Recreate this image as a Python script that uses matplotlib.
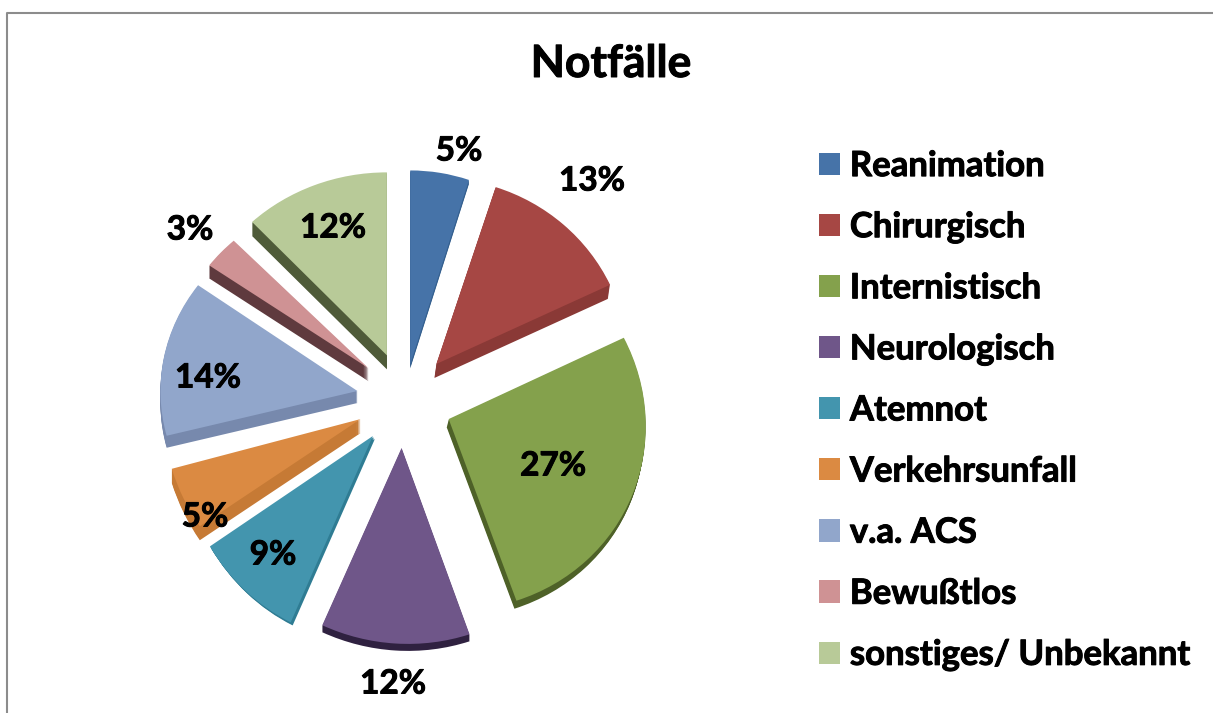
import matplotlib
matplotlib.use("Agg")
import matplotlib.pyplot as plt
import matplotlib.patheffects as pe
import numpy as np
from matplotlib.patches import Wedge
from matplotlib.transforms import Affine2D

plt.rcParams["font.family"] = ["Lato", "DejaVu Sans"]
plt.rcParams["font.weight"] = "bold"

categories = ["Reanimation", "Chirurgisch", "Internistisch", "Neurologisch", "Atemnot",
              "Verkehrsunfall", "v.a. ACS", "Bewußtlos", "sonstiges/ Unbekannt"]
values = [5, 13, 27, 12, 9, 5, 14, 3, 12]
colors = ["#4673A8", "#A64744", "#84A14C", "#6F5689", "#4395AE",
          "#DB8A42", "#91A6CB", "#CF9294", "#B8CA98"]
side_colors = ["#35608F", "#8A3936", "#4E6128", "#2F2140", "#2F7C93",
               "#C67A35", "#7789AD", "#5F3A3E", "#4F5B39"]

# pixel geometry, the axes span the whole image (y up)
H = 713
R = 190
explode = [36, 48, 48, 48, 48, 48, 48, 48, 48]
# perspective per slice: rx, ry, skew
radii = [(190, 194, 0), (192, 186, 0), (197, 191, -0.038), (200, 196, -0.033), (193, 206, 0),
         (198, 200, -0.06), (197, 180, 0), (197, 175, 0), (197, 183, 0)]
side_shift = [(0, 4), (-2, 14), (-2, 8), (0, 7), (2, 3), (0, 14), (0, 12), (0, 13), (0, 14)]
label_pos = [(459, 151), (592, 181), (553, 466), (393, 684), (273, 555),
             (205, 517), (208, 378), (190, 230), (333, 228)]

fig = plt.figure(figsize=(12.13, 7.13), dpi=100)
ax = fig.add_axes([0, 0, 1, 1])

wedges, _ = ax.pie(values, explode=explode, colors=colors, startangle=90, counterclock=False,
                   center=(404.6, H - 400), radius=R, wedgeprops={"linewidth": 0, "zorder": 3})


def squash(center, rx, ry, skew):
    cx, cy = center
    mtx = np.array([[rx / R, skew * ry / R, 0], [0, ry / R, 0], [0, 0, 1.0]])
    return Affine2D().translate(-cx, -cy) + Affine2D(mtx).translate(cx, cy) + ax.transData


ax.set_aspect("auto")
ax.set_xlim(0, 1213)
ax.set_ylim(0, H)
ax.axis("off")

# fake 3d: stack darker copies under each slice
for w, (rx, ry, skew), shift, c in zip(wedges, radii, side_shift, side_colors):
    steps = max(abs(shift[0]), abs(shift[1]))
    for k in range(1, steps + 1):
        pos = (w.center[0] + shift[0] * k / steps, w.center[1] - shift[1] * k / steps)
        side = Wedge(pos, R, w.theta1, w.theta2, color=c, lw=0, zorder=2)
        ax.add_patch(side)
        side.set_transform(squash(pos, rx, ry, skew))
    w.set_transform(squash(w.center, rx, ry, skew))

# chart area border
ax.plot([7, 7, 1213], [0, H - 12.5, H - 12.5], color="#8c8c8c", lw=1.5, zorder=1)

heavy = [pe.withStroke(linewidth=0.7, foreground="black")]

ax.text(611, H - 64, "Notfälle", fontsize=32, ha="center", va="center", path_effects=heavy)

for v, (x, y) in zip(values, label_pos):
    ax.text(x, H - y, f"{v}%", fontsize=24, ha="center", va="center", zorder=5, path_effects=heavy)

leg = ax.legend(wedges, categories, loc="upper left", bbox_to_anchor=(0.675, 0.7895), frameon=False,
                fontsize=25, handlelength=0.605, handleheight=0.605, handletextpad=0.29,
                labelspacing=0.838, borderpad=0, borderaxespad=0)
for t in leg.get_texts():
    t.set_path_effects(heavy)

fig.savefig("out.png", dpi=100)
